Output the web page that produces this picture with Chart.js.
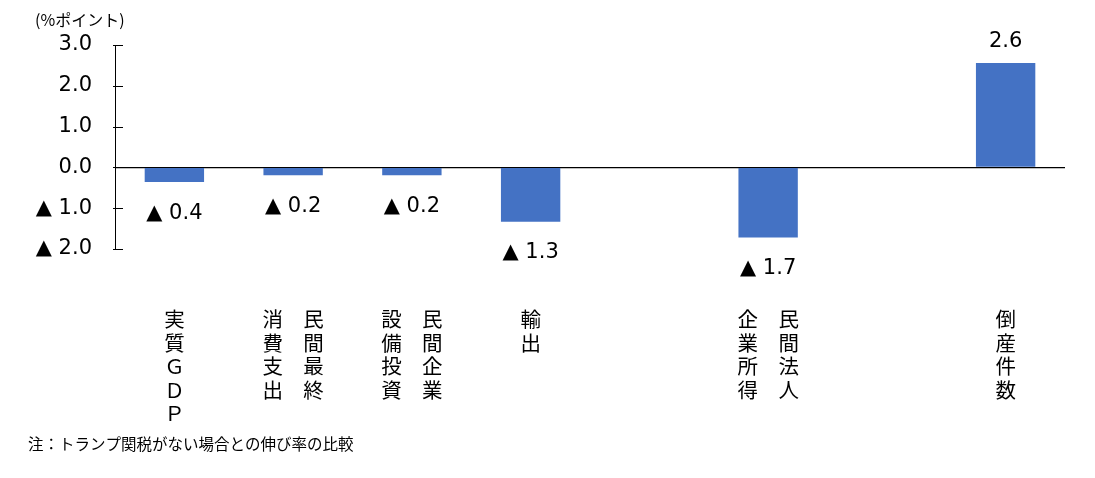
<!DOCTYPE html>
<html>
<head>
<meta charset="utf-8">
<script src="https://cdn.jsdelivr.net/npm/chart.js@4"></script>
<style>
  html, body { margin: 0; padding: 0; background: #fff; }
  #wrap { width: 1095px; height: 478px; }
</style>
</head>
<body>
<div id="wrap"><canvas id="myChart"></canvas></div>
<script>
// categories written as vertical rows (left column, right column)
const categories = [
    ['実', '質', 'Ｇ', 'Ｄ', 'Ｐ'],
    ['消　民', '費　間', '支　最', '出　終'],
    ['設　民', '備　間', '投　企', '資　業'],
    ['輸', '出'],
    '',
    ['企　民', '業　間', '所　法', '得　人'],
    '',
    ['倒', '産', '件', '数']
];
const values = [-0.36, -0.19, -0.19, -1.33, null, -1.72, null, 2.56];
const yTicks = [-2, -1, 0, 1, 2, 3];
const unitLabel = '(%ポイント)';
const note = '注：トランプ関税がない場合との伸び率の比較';

const FONT = "'Noto Sans CJK JP', 'Noto Sans', sans-serif";
const NUM_FONT = "'DejaVu Sans', 'Noto Sans CJK JP', sans-serif";

const fmt = (v) => v < 0 ? '▲ ' + Math.abs(v).toFixed(1) : v.toFixed(1);

const extras = {
    id: 'extras',
    afterDraw: (chart) => {
        const ctx = chart.ctx;
        const y = chart.scales.y;
        ctx.save();
        // inward tick marks on the y axis
        ctx.strokeStyle = '#000';
        ctx.lineWidth = 1;
        y.ticks.forEach((t) => {
            const py = Math.round(y.getPixelForValue(t.value)) + 0.5;
            ctx.beginPath();
            ctx.moveTo(y.right - 2, py);
            ctx.lineTo(y.right + 8, py);
            ctx.stroke();
        });
        // value labels
        ctx.fillStyle = '#000';
        ctx.font = '21px ' + NUM_FONT;
        ctx.textAlign = 'center';
        ctx.textBaseline = 'middle';
        chart.getDatasetMeta(0).data.forEach((bar, i) => {
            const v = values[i];
            if (v === null) return;
            if (v < 0) {
                ctx.fillText(fmt(v), bar.x, bar.y + 31);
            } else {
                ctx.fillText(fmt(v), bar.x, bar.y - 21);
            }
        });
        // unit and note
        ctx.textAlign = 'left';
        ctx.font = '16px ' + FONT;
        ctx.fillText(unitLabel, 35, 20);
        ctx.font = '15.5px ' + FONT;
        ctx.fillText(note, 28, 444);
        ctx.restore();
    }
};

const ctx = document.getElementById('myChart').getContext('2d');
const chart = new Chart(ctx, {
    type: 'bar',
    data: {
        labels: categories,
        datasets: [{
            data: values,
            backgroundColor: '#4472C4',
            borderWidth: 0,
            categoryPercentage: 1,
            barPercentage: 0.5
        }]
    },
    options: {
        responsive: true,
        maintainAspectRatio: false,
        animation: false,
        layout: { padding: { top: 45, right: 30, left: 0, bottom: 0 } },
        plugins: {
            legend: { display: false },
            tooltip: { enabled: false }
        },
        scales: {
            x: {
                grid: { display: false },
                border: { display: false },
                ticks: {
                    autoSkip: false,
                    maxRotation: 0,
                    minRotation: 0,
                    padding: 51,
                    color: '#000',
                    font: { family: FONT, size: 20.5, lineHeight: 1.14 }
                },
                afterFit: (scale) => { scale.height = 229; }
            },
            y: {
                min: -2,
                max: 3,
                afterBuildTicks: (scale) => {
                    scale.ticks = yTicks.map((v) => ({ value: v }));
                },
                grid: {
                    drawTicks: false,
                    color: (c) => c.tick && c.tick.value === 0 ? '#000' : 'rgba(0,0,0,0)',
                    lineWidth: 1.2
                },
                border: { display: true, color: '#000', width: 1 },
                ticks: {
                    padding: 23,
                    color: '#000',
                    font: { family: NUM_FONT, size: 21 },
                    callback: (v) => fmt(v)
                },
                afterFit: (scale) => { scale.width = 115; }
            }
        }
    },
    plugins: [extras]
});
</script>
</body>
</html>
